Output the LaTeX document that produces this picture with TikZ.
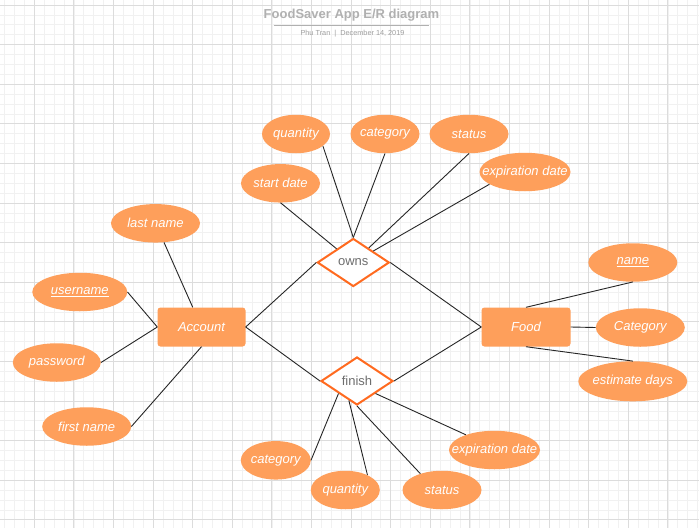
\documentclass[tikz,border=0pt]{standalone}
\usepackage{fontspec}
\setmainfont{Liberation Sans}
\usetikzlibrary{shapes.geometric,calc}
\definecolor{ofill}{HTML}{FE9F5B}
\definecolor{dstroke}{HTML}{FF6A1F}
\definecolor{dtext}{HTML}{6E6E6E}
\definecolor{gminor}{HTML}{F1F1F1}
\definecolor{gmajor}{HTML}{DCDCDC}
\definecolor{ttext}{HTML}{B0B0B0}
\newcommand\ctext[1]{\makebox[0pt]{#1}}
\tikzset{
  attr/.style={ellipse, fill=ofill, draw=none, inner sep=0pt, minimum width=#1, minimum height=38.5,
    font=\fontsize{13}{15}\selectfont\itshape, text=white},
  entity/.style={rectangle, rounded corners=3, fill=ofill, draw=none, inner sep=0pt, minimum width=#1,
    minimum height=39, font=\fontsize{13}{15}\selectfont\itshape, text=white},
  rel/.style={diamond, draw=dstroke, line width=2, fill=white, inner sep=0pt, minimum width=72,
    minimum height=48, font=\fontsize{13}{15}\selectfont, text=dtext},
  conn/.style={draw=black!85, line width=0.9},
  gridminor/.style={draw=gminor, line width=0.8},
  gridmajor/.style={draw=gmajor, line width=0.9},
  titletext/.style={font=\fontsize{13}{15}\selectfont\bfseries, text=ttext, inner sep=0pt},
  subtext/.style={font=\fontsize{7.3}{9}\selectfont, text=ttext!90!black, inner sep=0pt},
}
\begin{document}
\begin{tikzpicture}[x=1pt,y=-1pt]
\fill[white] (0,0) rectangle (699,528);
\useasboundingbox (0,0) rectangle (699,528);
% grid
\foreach \i in {0,...,71} { \draw[gridminor] ({-5.3+\i*9.9},0) -- ++(0,528); }
\foreach \i in {0,...,54} { \draw[gridminor] (0,{-4.9+\i*9.9}) -- ++(699,0); }
\foreach \i in {0,...,17} { \draw[gridmajor] ({34.3+\i*39.6},0) -- ++(0,528); }
\foreach \i in {0,...,13} { \draw[gridmajor] (0,{5+\i*39.6}) -- ++(699,0); }
% title
\node[titletext] (title) at (351.5,15) {FoodSaver App E/R diagram};
\draw[draw=ttext, line width=1] (273.5,25.7) -- (429,25.7);
\node[subtext] (sub) at (352.5,34) {Phu Tran \ | \ December 14, 2019};
% entities
\node[entity=88] (account) at (201.5,327) {\ctext{Account}};
\node[entity=89] (food) at (526,327) {\ctext{Food}};
% relationships
\node[rel] (owns) at (353.3,262.5) {\ctext{owns}};
\node[rel] (finish) at (357,381) {\ctext{finish}};
% attributes of owns
\node[attr=68] (qo) at (296,134) {\ctext{quantity}};
\node[attr=69] (co) at (385,134) {\ctext{category}};
\node[attr=79] (so) at (469,134) {\ctext{status}};
\node[attr=91] (eo) at (525,172) {\ctext{expiration date}};
\node[attr=79] (sd) at (280.5,183.3) {\ctext{start date}};
% attributes of finish
\node[attr=70] (cf) at (275.8,460.3) {\ctext{category}};
\node[attr=69] (qf) at (345.3,490) {\ctext{quantity}};
\node[attr=79] (sf) at (442,490) {\ctext{status}};
\node[attr=91] (ef) at (494.5,450) {\ctext{expiration date}};
% attributes of account
\node[attr=89] (ln) at (155.5,223.3) {\ctext{last name}};
\node[attr=95] (un) at (79.8,292) {\ctext{\underline{username}}};
\node[attr=88] (pw) at (56.8,362.5) {\ctext{password}};
\node[attr=89] (fn) at (86.7,426.5) {\ctext{first name}};
% attributes of food
\node[attr=89] (nm) at (632.8,262.5) {\ctext{\underline{name}}};
\node[attr=89] (ct) at (640.3,327.5) {\ctext{Category}};
\node[attr=109, minimum height=40] (ed) at (632.8,381.3) {\ctext{estimate days}};
% connectors
\draw[conn] (sd.south) -- (owns);
\draw[conn] (qo.-24) -- (owns.north);
\draw[conn] (co.south) -- (owns.north);
\draw[conn] (so.south) -- (owns);
\draw[conn] (eo.199) -- (owns);
\draw[conn] (account.east) -- (owns.west);
\draw[conn] (owns.east) -- (food.west);
\draw[conn] (account.east) -- (finish.west);
\draw[conn] (finish.east) -- (food.west);
\draw[conn] (cf.east) -- (finish.south west);
\draw[conn] (qf.34) -- ($(finish.south)!0.22!(finish.west)$);
\draw[conn] (sf.143) -- (finish.south);
\draw[conn] (ef.152) -- (finish.south east);
\draw[conn] (ln.-66) -- (account.114);
\draw[conn] (un.east) -- (account.west);
\draw[conn] (pw.east) -- (account.west);
\draw[conn] (fn.east) -- (account.south);
\draw[conn] (nm.south) -- (food.north);
\draw[conn] (food.east) -- (ct.west);
\draw[conn] (food.south) -- (ed.north);
\end{tikzpicture}
\end{document}
